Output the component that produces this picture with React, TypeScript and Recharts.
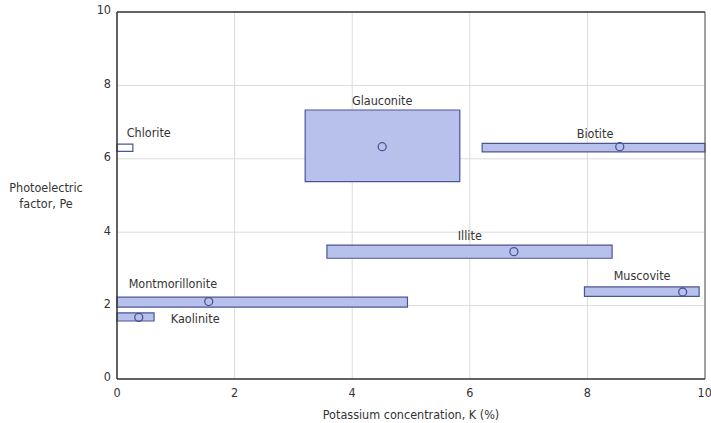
import React from "react";
import {
  CartesianGrid,
  ComposedChart,
  Label,
  ReferenceArea,
  ReferenceLine,
  Scatter,
  XAxis,
  YAxis,
} from "recharts";

// mineral ranges: K (%) and Pe
const minerals = ["Chlorite", "Glauconite", "Biotite", "Illite", "Muscovite", "Montmorillonite", "Kaolinite"];
const kMin = [0, 3.2, 6.21, 3.57, 7.95, 0, 0];
const kMax = [0.27, 5.83, 10, 8.42, 9.9, 4.94, 0.63];
const peMin = [6.2, 5.38, 6.19, 3.29, 2.25, 1.96, 1.58];
const peMax = [6.4, 7.33, 6.42, 3.65, 2.51, 2.23, 1.8];

// typical value (circle) for each mineral, null = none
const kTypical = [null, 4.51, 8.55, 6.75, 9.62, 1.56, 0.37];
const peTypical = [null, 6.33, 6.33, 3.47, 2.37, 2.11, 1.68];

// where each name is written
const labelK = [0.54, 4.51, 8.13, 6.0, 8.93, 0.95, 1.33];
const labelPe = [6.73, 7.6, 6.7, 3.9, 2.81, 2.59, 1.66];

const ticks = [0, 2, 4, 6, 8, 10];

const FONT = "'Liberation Sans Narrow', 'DejaVu Sans Condensed', 'Roboto Condensed', Arial, sans-serif";
const FILL = "#b7c1ec";
const EDGE = "#4a5596";
const INK = "#333";

const points = minerals
  .map((name, i) => ({ name, k: kTypical[i], pe: peTypical[i] }))
  .filter((d) => d.k !== null);

const labels = minerals.map((name, i) => ({ name, k: labelK[i], pe: labelPe[i] }));

const Ring = (props: any) => (
  <circle cx={props.cx} cy={props.cy} r={4} fill="none" stroke={EDGE} strokeWidth={1.3} />
);

const NameText = (props: any) => (
  <text
    x={props.cx}
    y={props.cy}
    textAnchor="middle"
    dominantBaseline="central"
    fontFamily={FONT}
    fontSize={12.5}
    fill={INK}
  >
    {props.payload.name}
  </text>
);

const PeLabel = () => (
  <text x={46} y={188} textAnchor="middle" fontFamily={FONT} fontSize={12.5} fill={INK}>
    <tspan x={46} dy="0.35em">Photoelectric</tspan>
    <tspan x={46} dy="1.25em">factor, Pe</tspan>
  </text>
);

const App: React.FC = () => {
  return (
    <div style={{ position: "absolute", left: 0, top: 0, background: "#fff" }}>
      <ComposedChart width={711} height={423} margin={{ top: 12, right: 6, left: 0, bottom: 0 }}>
        <CartesianGrid stroke="#dcdcdc" strokeWidth={1} />
        <XAxis
          type="number"
          dataKey="k"
          domain={[0, 10]}
          ticks={ticks}
          height={44}
          allowDataOverflow
          axisLine={{ stroke: INK, strokeWidth: 1.5 }}
          tickLine={false}
          tickSize={6}
          tickMargin={3}
          tick={{ fill: INK, fontFamily: FONT, fontSize: 12.5 }}
        >
          <Label
            value="Potassium concentration, K (%)"
            position="insideBottom"
            offset={4}
            style={{ fill: INK, fontFamily: FONT, fontSize: 12.5 }}
          />
        </XAxis>
        <YAxis
          type="number"
          dataKey="pe"
          domain={[0, 10]}
          ticks={ticks}
          width={117}
          allowDataOverflow
          axisLine={{ stroke: INK, strokeWidth: 1.5 }}
          tickLine={false}
          tickSize={6}
          tickMargin={0}
          tick={{ fill: INK, fontFamily: FONT, fontSize: 12.5, dy: -2 }}
        >
          <Label content={<PeLabel />} />
        </YAxis>
        <ReferenceLine y={10} stroke={INK} strokeWidth={1.5} />
        <ReferenceLine x={10} stroke="#555" strokeWidth={1} />
        {minerals.map((name, i) => (
          <ReferenceArea
            key={name}
            x1={kMin[i]}
            x2={kMax[i]}
            y1={peMin[i]}
            y2={peMax[i]}
            fill={name === "Chlorite" ? "#fff" : FILL}
            fillOpacity={1}
            stroke={EDGE}
            strokeWidth={1.2}
            ifOverflow="visible"
          />
        ))}
        <Scatter data={points} shape={<Ring />} isAnimationActive={false} />
        <Scatter data={labels} shape={<NameText />} isAnimationActive={false} />
      </ComposedChart>
    </div>
  );
};

export default App;
